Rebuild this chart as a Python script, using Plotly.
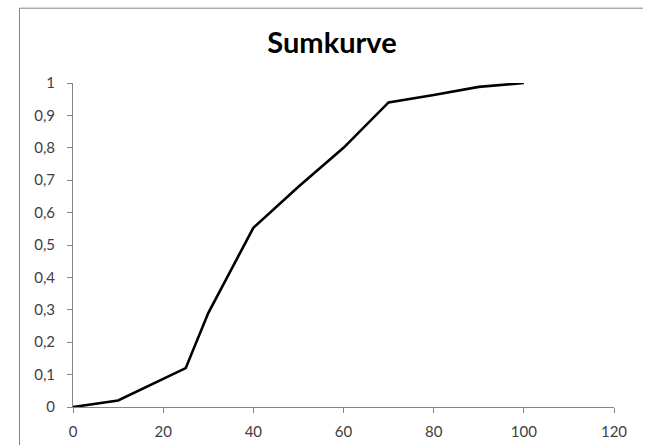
import plotly.graph_objects as go

x_vals = [0, 10, 25, 30, 40, 50, 60, 70, 80, 90, 100]
y_vals = [0, 0.02, 0.12, 0.29, 0.553, 0.68, 0.80, 0.94, 0.963, 0.988, 1.0]
x_ticks = [0, 20, 40, 60, 80, 100, 120]
y_ticks = [0, 0.1, 0.2, 0.3, 0.4, 0.5, 0.6, 0.7, 0.8, 0.9, 1]
y_tick_labels = ["0", "0,1", "0,2", "0,3", "0,4", "0,5", "0,6", "0,7", "0,8", "0,9", "1"]

W, H = 649, 445
L, R, T, B = 73, 35, 83.3, 37.7
pw = W - L - R
ph = H - T - B

fig = go.Figure()
fig.add_trace(go.Scatter(x=x_vals, y=y_vals, mode="lines",
                         line=dict(color="black", width=2.6), showlegend=False))

axis_common = dict(showgrid=False, zeroline=False, showline=True, linecolor="#868686",
                   linewidth=1, ticks="outside", ticklen=5, tickcolor="#868686",
                   automargin=False,
                   tickfont=dict(family="Lato, Open Sans, sans-serif", size=15, color="#404040"))

fig.update_xaxes(range=[0, 120], tickvals=x_ticks, ticktext=[str(v) for v in x_ticks],
                 ticklabelstandoff=6, **axis_common)
fig.update_yaxes(range=[0, 1], tickvals=y_ticks, ticktext=y_tick_labels,
                 ticklabelstandoff=9, **axis_common)

# chart border (top and left edges visible)
def px_x(p):
    return (p - L) / pw

def px_y(p):
    return (H - B - p) / ph

fig.add_shape(type="line", xref="paper", yref="paper",
              x0=px_x(19.5), x1=px_x(643), y0=px_y(8.5), y1=px_y(8.5),
              line=dict(color="#868686", width=1), layer="below")
fig.add_shape(type="line", xref="paper", yref="paper",
              x0=px_x(19.5), x1=px_x(19.5), y0=px_y(8.5), y1=px_y(H + 10),
              line=dict(color="#868686", width=1), layer="below")

fig.update_layout(
    width=W, height=H,
    margin=dict(l=L, r=R, t=T, b=B, autoexpand=False),
    paper_bgcolor="white", plot_bgcolor="white",
    title=dict(text="<b>Sumkurve</b>", x=px_x(332), xref="paper", xanchor="center",
               y=1 - 43 / H, yref="container", yanchor="middle",
               font=dict(family="Lato, Open Sans, sans-serif", size=29, color="black")),
)

fig.write_html("out.html", config={"displayModeBar": False},
               post_script="document.documentElement.style.overflow='hidden';"
                           "document.body.style.overflow='hidden';")
